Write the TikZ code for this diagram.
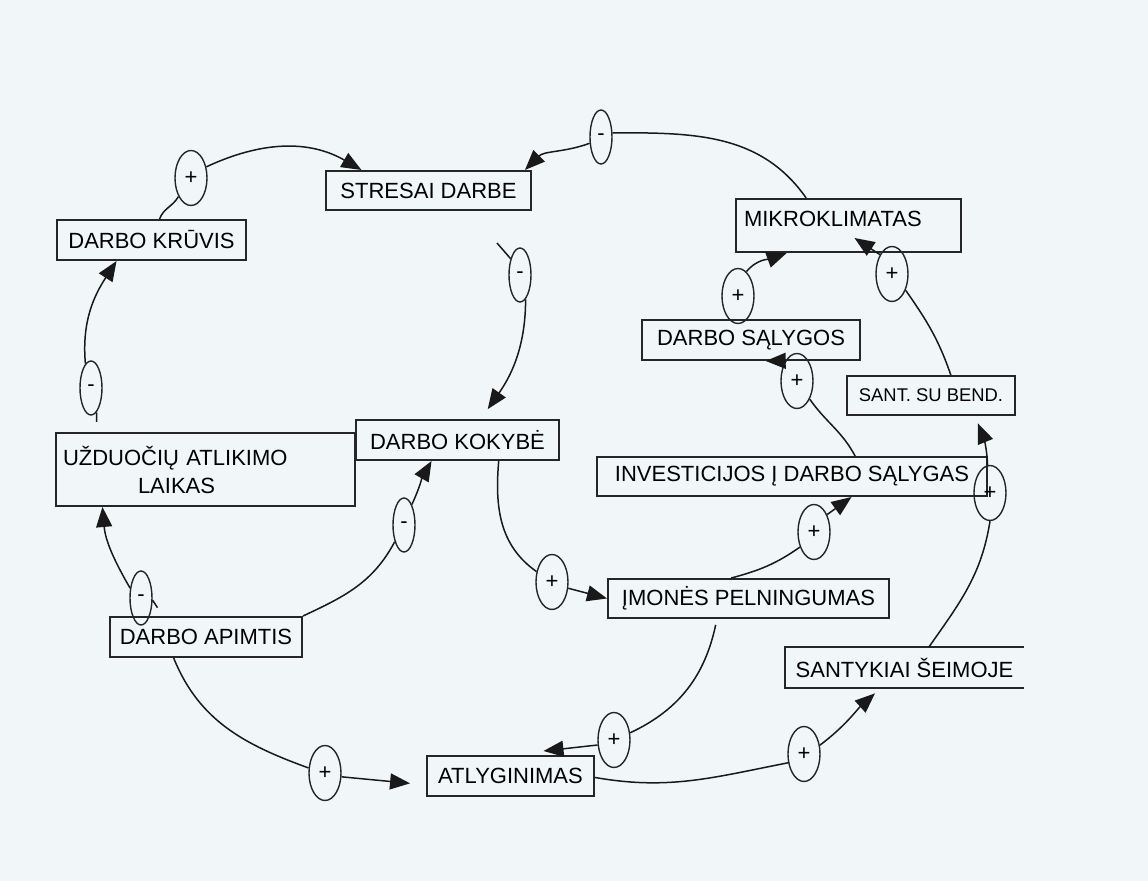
\documentclass[tikz,border=0pt]{standalone}
\usepackage{fontspec}
\setmainfont{Liberation Sans}
\usetikzlibrary{arrows.meta,shapes.geometric}

\begin{document}
\begin{tikzpicture}[x=0.5pt,y=-0.5pt,font=\fontsize{11}{14}\selectfont,
    box/.style={draw=black!85,line width=1pt,inner sep=0pt},
    plus/.style={draw=black!85,ellipse,line width=0.7pt,inner sep=0pt,minimum width=16pt,minimum height=27.5pt},
    minus/.style={plus,minimum width=11pt,minimum height=27pt},
    link/.style={line width=0.75pt,draw=black!90,-{Triangle[length=10pt,width=8pt]}},
    stub/.style={line width=0.75pt,draw=black!90}]

    \definecolor{paper}{RGB}{241,247,249}

    % page
    \fill[paper] (0,0) rectangle (1148,881);

    % variables
    \node[box,minimum width=102.5pt,minimum height=19.5pt] (stress) at (428.5,190.5) {STRESAI DARBE};
    \node[box,minimum width=94.5pt,minimum height=20pt] (kruvis) at (151.5,240) {DARBO KRŪVIS};
    \node[box,minimum width=112.5pt,minimum height=26.5pt,text width=104.5pt,align=left,text depth=6.5pt] (mikro) at (848.5,225.5) {MIKROKLIMATAS};
    \node[box,minimum width=109pt,minimum height=20pt] (salygos) at (751,340) {DARBO SĄLYGOS};
    \node[box,minimum width=84pt,minimum height=19.5pt,font=\fontsize{9.2}{11}\selectfont] (santbend) at (931,395.5) {SANT. SU BEND.};
    \node[box,minimum width=149.5pt,minimum height=36.5pt,text width=142.5pt,align=left] (laikas) at (205.5,469.5) {UŽDUOČIŲ ATLIKIMO\\\hspace*{37.5pt}LAIKAS};
    \node[box,minimum width=101.5pt,minimum height=20pt] (kokybe) at (457.5,440) {DARBO KOKYBĖ};
    \node[box,minimum width=195pt,minimum height=19.5pt] (invest) at (792,476.5) {INVESTICIJOS Į DARBO SĄLYGAS};
    \node[box,minimum width=140.5pt,minimum height=19.5pt] (pelning) at (748.5,598.5) {ĮMONĖS PELNINGUMAS};
    \node[box,minimum width=96pt,minimum height=20pt] (apimtis) at (206,637) {DARBO APIMTIS};
    \node[box,draw=none,minimum width=118.5pt,minimum height=19.5pt] (seima) at (904.5,667.5) {SANTYKIAI ŠEIMOJE};
    \draw[black!85,line width=1pt] (seima.north east) -- (seima.north west) -- (seima.south west) -- (seima.south east);
    \node[box,minimum width=83.5pt,minimum height=20pt] (atlyg) at (510.5,776) {ATLYGINIMAS};

    % polarity marks
    \foreach \n/\st/\x/\y/\t in {s1/plus/191/178/+, s2/minus/601/137/-, s3/minus/520/275/-,
            s4/minus/91/388/-, s5/minus/141/598/-, s6/minus/404/525/-, s7/plus/552/582/+,
            s8/plus/814/532/+, s9/plus/990/493/+, s10/plus/738/296/+, s11/plus/892/274/+,
            s12/plus/797/381/+, s13/plus/325/773/+, s14/plus/614/740/+, s15/plus/804/754/+}
    \node[\st] (\n) at (\x,\y) {\t};

    % links
    \draw[stub] (kruvis.69) to[out=70,in=240] (s1.236);
    \draw[link] (s1.36) to[out=25,in=150] (stress.163);

    \draw[stub] (mikro.147) to[out=125,in=0] (s2.20);
    \draw[link] (s2.209) to[out=200,in=45] (stress.12);

    \coordinate (cfree) at (497,243);
    \draw[stub] (cfree) -- (s3.120);
    \draw[link,shorten >=6pt] (s3.283) to[out=270,in=55] (kokybe.42);

    \draw[stub,shorten <=5pt] (laikas.161) -- (s4.283);
    \draw[link] (s4.103) to[out=95,in=237] (kruvis.211);

    \draw[stub,shorten <=5pt] (apimtis.154) -- (s5.349);
    \draw[link] (s5.138) to[out=120,in=275] (laikas.200);

    \draw[stub] (apimtis.north east) to[out=25,in=242] (s6.241);
    \draw[link] (s6.69) to[out=65,in=240] (kokybe.219);

    \draw[stub] (kokybe.333) to[out=265,in=145] (s7.146);
    \draw[link] (s7.339) -- (pelning.west);

    \draw[stub] (pelning.130) to[out=15,in=215] (s8.227);
    \draw[link] (s8.53) -- (invest.341);

    \draw[stub] (invest.18) to[out=118,in=305] (s12.305);
    \draw[link] (s12.120) -- (salygos.305);

    \draw[link] (s10.71) to[out=50,in=200] (mikro.204);

    \draw[stub] (santbend.46) to[out=109,in=305] (s11.310);
    \draw[link] (s11.122) -- ([shift={(6,-15)}]mikro.south);

    \draw[stub] (seima.40) to[out=55,in=261] (s9.270);
    \draw[link,shorten >=4pt] (s9.95) to[out=92,in=292] (santbend.335);

    \draw[stub,shorten <=3pt] (pelning.213) to[out=258,in=25] (s14.24);
    \draw[link] (s14.197) -- ([shift={(33,-4)}]atlyg.north);

    \draw[stub] (apimtis.213) to[out=292,in=160] (s13.163);
    \draw[link,shorten >=8pt] (s13.347) -- (atlyg.186);

    \draw[stub] (atlyg.359) to[out=350,in=191] (s15.209);
    \draw[link,shorten >=4pt] (s15.29) to[out=37,in=222] (seima.221);

\end{tikzpicture}
\end{document}
